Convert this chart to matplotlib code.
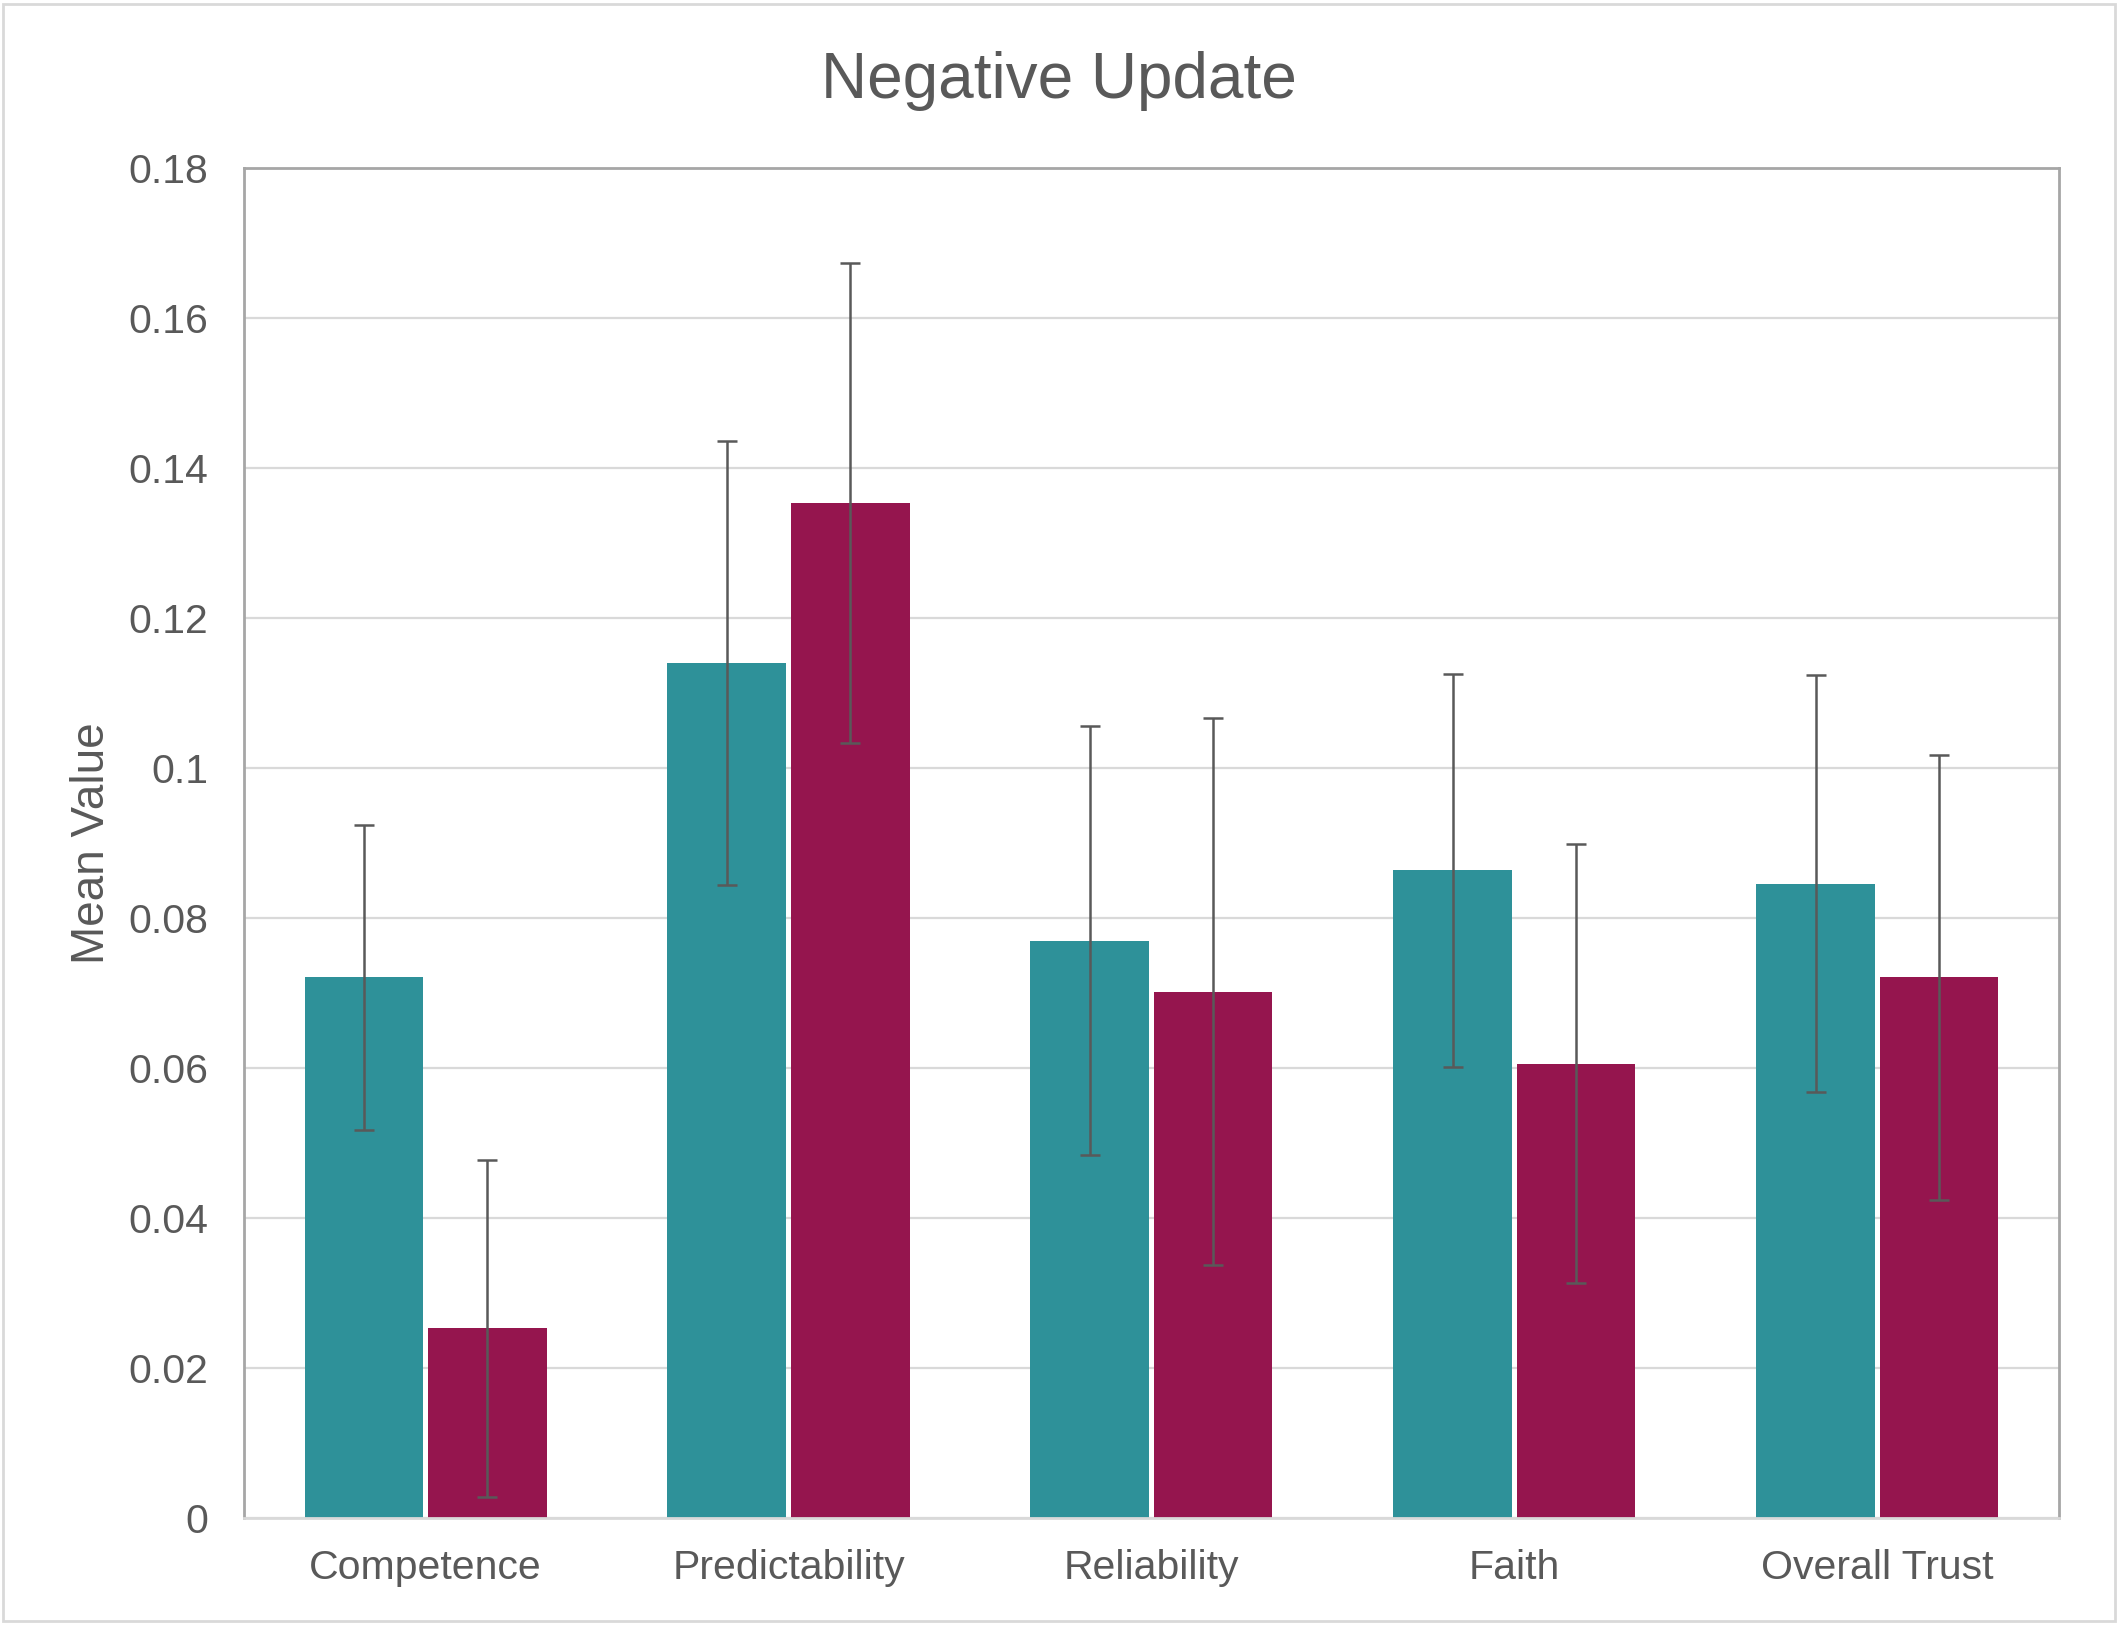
import numpy as np
import matplotlib
matplotlib.use('Agg')
import matplotlib.pyplot as plt
from matplotlib.patches import Rectangle

categories = ['Competence', 'Predictability', 'Reliability', 'Faith', 'Overall Trust']
teal_means = [0.0721, 0.1140, 0.0770, 0.0864, 0.0846]
teal_err = [0.0203, 0.0296, 0.0286, 0.0262, 0.0278]
maroon_means = [0.0253, 0.1353, 0.0702, 0.0606, 0.0721]
maroon_err = [0.0225, 0.0320, 0.0365, 0.0293, 0.0297]
yticks = [0, 0.02, 0.04, 0.06, 0.08, 0.1, 0.12, 0.14, 0.16, 0.18]
ytick_labels = ['0', '0.02', '0.04', '0.06', '0.08', '0.1', '0.12', '0.14', '0.16', '0.18']

plt.rcParams['font.family'] = ['Liberation Sans', 'DejaVu Sans']
text_col = '#595959'

fig = plt.figure(figsize=(21.17, 16.27), dpi=100)
ax = fig.add_axes([0.1153, 0.0670, 0.9725 - 0.1153, 0.8967 - 0.0670])

x = np.arange(len(categories))
width = 0.327
off = 0.170
err_style = dict(ecolor='#595959', elinewidth=1.8, capsize=7, capthick=1.8)

ax.bar(x - off, teal_means, width, color='#2E9199', zorder=2)
ax.errorbar(x - off, teal_means, yerr=teal_err, fmt='none', zorder=3, **err_style)
ax.bar(x + off, maroon_means, width, color='#95154E', zorder=2)
ax.errorbar(x + off, maroon_means, yerr=maroon_err, fmt='none', zorder=3, **err_style)

ax.set_xlim(-0.5, len(categories) - 0.5)
ax.set_ylim(0, 0.18)
ax.set_yticks(yticks)
ax.set_yticklabels(ytick_labels)
ax.set_xticks(x)
ax.set_xticklabels(categories)
ax.grid(axis='y', color='#D9D9D9', linewidth=1.6, zorder=0)
ax.set_axisbelow(True)
ax.tick_params(axis='both', length=0, labelsize=29.5, labelcolor=text_col)
ax.tick_params(axis='y', pad=26)
ax.tick_params(axis='x', pad=22)

for s in ['top', 'left', 'right']:
    ax.spines[s].set_color('#A6A6A6')
    ax.spines[s].set_linewidth(2)
ax.spines['bottom'].set_color('#D9D9D9')
ax.spines['bottom'].set_linewidth(2)

ax.set_ylabel('Mean Value', fontsize=33, color=text_col)
ax.yaxis.set_label_coords(-0.0715, 0.5)

fig.text(0.5, 0.9398, 'Negative Update', ha='center', va='baseline',
         fontsize=46, color=text_col)

fig.patches.append(Rectangle((0.0015, 0.0035), 0.9975, 0.994, transform=fig.transFigure,
                             fill=False, edgecolor='#D9D9D9', linewidth=2))

fig.savefig('out.png', dpi=100)
